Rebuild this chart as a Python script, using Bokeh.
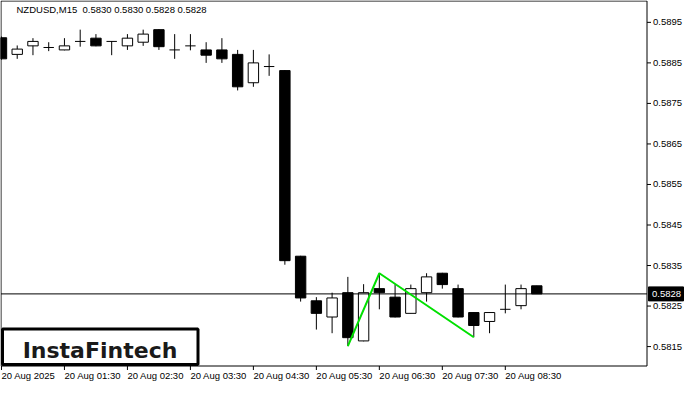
from bokeh.plotting import figure
from bokeh.models import Range1d, ColumnDataSource
from bokeh.embed import file_html
from bokeh.resources import INLINE
from bokeh.core.properties import value

# ---------------- data ----------------
symbol = "NZDUSD,M15"
opens = [0.58912, 0.58871, 0.58892, 0.58888, 0.58882, 0.58903, 0.58911, 0.58903, 0.58892, 0.58901,
         0.58932, 0.58882, 0.58892, 0.58882, 0.58882, 0.58871, 0.58801, 0.58841, 0.58831, 0.58373,
         0.58263, 0.58223, 0.58283, 0.58164, 0.58293, 0.58272, 0.58232, 0.58283, 0.58331, 0.58293,
         0.58234, 0.58212, 0.58242, 0.58251, 0.58300]
highs = [0.58915, 0.58893, 0.58911, 0.58901, 0.58911, 0.58932, 0.58921, 0.58904, 0.58921, 0.58932,
         0.58933, 0.58921, 0.58921, 0.58901, 0.58911, 0.58882, 0.58882, 0.58871, 0.58832, 0.58374,
         0.58272, 0.58283, 0.58322, 0.58304, 0.58331, 0.58304, 0.58303, 0.58331, 0.58332, 0.58303,
         0.58235, 0.58235, 0.58303, 0.58303, 0.58300]
lows = [0.58858, 0.58860, 0.58869, 0.58879, 0.58881, 0.58890, 0.58891, 0.58869, 0.58882, 0.58892,
        0.58882, 0.58860, 0.58881, 0.58850, 0.58850, 0.58782, 0.58791, 0.58818, 0.58352, 0.58261,
        0.58192, 0.58183, 0.58151, 0.58163, 0.58242, 0.58222, 0.58232, 0.58261, 0.58293, 0.58222,
        0.58173, 0.58183, 0.58232, 0.58242, 0.58280]
closes = [0.58860, 0.58884, 0.58903, 0.58888, 0.58892, 0.58903, 0.58892, 0.58903, 0.58911, 0.58921,
          0.58890, 0.58882, 0.58892, 0.58869, 0.58860, 0.58791, 0.58850, 0.58841, 0.58362, 0.58270,
          0.58232, 0.58270, 0.58172, 0.58283, 0.58283, 0.58223, 0.58293, 0.58322, 0.58303, 0.58223,
          0.58202, 0.58234, 0.58242, 0.58293, 0.58280]

x_tick_pos = [0, 4, 8, 12, 16, 20, 24, 28, 32]
x_tick_labels = ["20 Aug 2025", "20 Aug 01:30", "20 Aug 02:30", "20 Aug 03:30", "20 Aug 04:30",
                 "20 Aug 05:30", "20 Aug 06:30", "20 Aug 07:30", "20 Aug 08:30"]
y_ticks = [0.5815, 0.5825, 0.5835, 0.5845, 0.5855, 0.5865, 0.5875, 0.5885, 0.5895]
last_price = 0.5828
pattern_idx = [22, 24, 30]          # low, high, low of the pattern
pattern_kind = ["low", "high", "low"]
logo_text = "InstaFintech"

# ---------------- layout (chart frame drawn inside the figure) ----------------
W, H = 684, 384
chart_left, chart_right = -0.03, 41.0            # bar-index units
chart_bottom, chart_top = 0.581021, 0.590027     # price units
fx_left, fx_right = 0.5, 646.5                   # figure pixels of chart frame
fy_top, fy_bottom = 0.5, 365.5
XPX = (chart_right - chart_left) / (fx_right - fx_left)    # index units per pixel
YPX = (chart_top - chart_bottom) / (fy_bottom - fy_top)    # price units per pixel
x_start = chart_left - fx_left * XPX
x_end = x_start + W * XPX
y_end = chart_top + fy_top * YPX
y_start = y_end - H * YPX

FONT = "Liberation Sans"
FS = "9.5px"

# ---------------- derived ----------------
n = len(opens)
xs = list(range(n))
bull = [c > o for o, c in zip(opens, closes)]
bear = [c < o for o, c in zip(opens, closes)]
doji = [c == o for o, c in zip(opens, closes)]
BW = 0.66

wick_src = ColumnDataSource(dict(x=xs, lo=lows, hi=highs))
def body_src(mask):
    return ColumnDataSource(dict(
        x=[x for x, m in zip(xs, mask) if m],
        top=[max(o, c) for o, c, m in zip(opens, closes, mask) if m],
        bottom=[min(o, c) for o, c, m in zip(opens, closes, mask) if m]))
bull_src = body_src(bull)
bear_src = body_src(bear)
doji_src = ColumnDataSource(dict(
    x0=[x - BW / 2 for x, m in zip(xs, doji) if m],
    x1=[x + BW / 2 for x, m in zip(xs, doji) if m],
    y=[o for o, m in zip(opens, doji) if m]))

p = figure(width=W, height=H, output_backend="svg", toolbar_location=None,
           x_range=Range1d(x_start, x_end), y_range=Range1d(y_start, y_end),
           x_axis_type=None, y_axis_type=None,
           min_border_left=0, min_border_top=0, min_border_right=0, min_border_bottom=0,
           background_fill_color="white", border_fill_color="white")
p.grid.visible = False
p.outline_line_color = None

# candles
p.segment(x0="x", y0="lo", x1="x", y1="hi", source=wick_src, line_color="black", line_width=1)
p.vbar(x="x", width=BW, top="top", bottom="bottom", source=bull_src,
       fill_color="white", line_color="black", line_width=1)
p.vbar(x="x", width=BW, top="top", bottom="bottom", source=bear_src,
       fill_color="black", line_color="black", line_width=1)
p.segment(x0="x0", y0="y", x1="x1", y1="y", source=doji_src, line_color="black", line_width=1)

# bid line
p.segment(x0=[chart_left], y0=[last_price], x1=[chart_right], y1=[last_price],
          line_color="black", line_width=1)

# pattern line
py = [lows[i] if k == "low" else highs[i] for i, k in zip(pattern_idx, pattern_kind)]
p.line(pattern_idx, py, line_color="#00e000", line_width=2)

# chart frame
p.quad(left=[chart_left], right=[chart_right], bottom=[chart_bottom], top=[chart_top],
       fill_color=None, line_color="black", line_width=1)

# right price scale
p.segment(x0=[chart_right] * len(y_ticks), y0=y_ticks,
          x1=[chart_right + 4 * XPX] * len(y_ticks), y1=y_ticks, line_color="black", line_width=1)
p.text(x=[chart_right + 6 * XPX] * len(y_ticks), y=y_ticks, text=[f"{t:.4f}" for t in y_ticks],
       text_font=value(FONT), text_font_size=FS, text_color="black",
       text_align="left", text_baseline="middle")

# price tag
p.quad(left=[chart_right + 1.5 * XPX], right=[chart_right + 36.5 * XPX],
       bottom=[last_price - 7 * YPX], top=[last_price + 7 * YPX],
       fill_color="black", line_color="black")
p.text(x=[chart_right + 5 * XPX], y=[last_price], text=[f"{last_price:.4f}"],
       text_font=value(FONT), text_font_size=FS, text_color="white",
       text_align="left", text_baseline="middle")

# time scale
p.segment(x0=x_tick_pos, y0=[chart_bottom] * len(x_tick_pos),
          x1=x_tick_pos, y1=[chart_bottom - 4 * YPX] * len(x_tick_pos),
          line_color="black", line_width=1)
p.text(x=x_tick_pos, y=[chart_bottom - 9.5 * YPX] * len(x_tick_pos), text=x_tick_labels,
       text_font=value(FONT), text_font_size=FS, text_color="black",
       text_align="left", text_baseline="middle")

# title
title = f"{symbol}\u00a0 {opens[-1]:.4f} {highs[-1]:.4f} {lows[-1]:.4f} {closes[-1]:.4f}"
p.text(x=[chart_left + 15.5 * XPX], y=[chart_top - 8 * YPX], text=[title],
       text_font=value(FONT), text_font_size=FS, text_color="black",
       text_align="left", text_baseline="middle")

# logo
p.quad(left=[chart_left + 1.5 * XPX], right=[chart_left + 197 * XPX],
       bottom=[chart_bottom + 1.5 * YPX], top=[chart_bottom + 37 * YPX],
       fill_color="white", line_color="black", line_width=3)
p.text(x=[chart_left + 99 * XPX], y=[chart_bottom + 15.5 * YPX], text=[logo_text],
       text_font=value("DejaVu Sans"), text_font_size="22px", text_font_style="bold",
       text_color="#1a1a1a", text_align="center", text_baseline="alphabetic")

open("out.html", "w").write(file_html(p, INLINE))
